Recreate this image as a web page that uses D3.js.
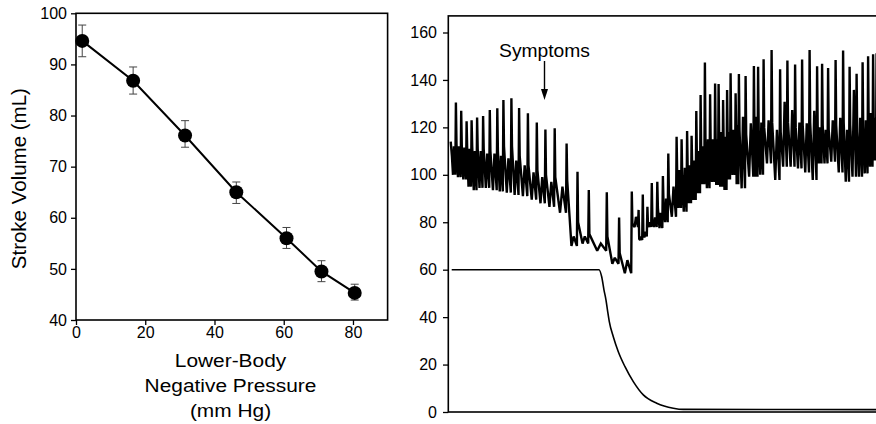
<!DOCTYPE html>
<html>
<head>
<meta charset="utf-8">
<script src="https://cdn.jsdelivr.net/npm/d3@7"></script>
<style>
  html, body { margin: 0; padding: 0; background: #fff; }
  svg { display: block; font-family: "Liberation Sans", Arial, Helvetica, sans-serif; }
</style>
</head>
<body>
<div id="chart"></div>
<script>
// ---------- left panel: stroke volume vs lower-body negative pressure ----------
const lbnpLevels   = [1.8, 16.5, 31.5, 46.3, 60.8, 70.9, 80.5];
const strokeVolume = [94.6, 86.8, 76.1, 65.0, 56.0, 49.5, 45.3];
const svErrLow     = [91.5, 84.2, 73.8, 62.8, 54.0, 47.5, 43.9];
const svErrHigh    = [97.7, 89.5, 79.0, 67.0, 58.1, 51.6, 47.0];
const leftXTicks = [0, 20, 40, 60, 80];
const leftYTicks = [40, 50, 60, 70, 80, 90, 100];

// ---------- right panel: blood pressure trace (one entry per beat) ----------
const beatTime  = [2.4, 7.0, 12.3, 17.7, 22.7, 28.2, 34.2, 40.9, 48.4, 54.5,
                   62.5, 70.2, 79.0, 87.9, 96.5, 105.8, 117.7, 128.6, 139.9, 157.9,
                   170.2, 182.9, 189.7, 193.9, 198.5, 202.9, 208.4, 214.0, 219.4, 227.7,
                   232.7, 238.2, 242.7, 247.4, 251.7, 256.0, 261.2, 266.2, 269.7, 274.2,
                   278.2, 281.7, 286.7, 290.0, 296.7, 305.0, 309.2, 314.7, 322.7, 331.2,
                   338.5, 346.2, 353.2, 360.7, 368.2, 373.2, 379.2, 386.7, 394.2, 400.7,
                   407.7, 413.7, 419.2, 424.2, 427.7];
const beatPeak  = [114, 130.5, 127, 122.6, 123, 124.2, 124.8, 127.3, 128.1, 131.5,
                   132.3, 128.2, 125.9, 122, 119.1, 119.6, 113.2, 101.3, 93.6, 92.6,
                   82, 93, 85.2, 91.7, 86.5, 96.5, 97.1, 99.5, 109, 116,
                   115, 118.5, 116.5, 126.9, 133.6, 147.3, 134, 138.5, 138.3, 131.5,
                   135.8, 142.8, 134.4, 142.5, 141.7, 145.9, 145.6, 148.7, 152.6, 144.5,
                   148.2, 146.5, 148.6, 152.6, 145.8, 146.8, 145, 148.4, 152.4, 145.6,
                   142.6, 147.5, 150, 150.8, 151.2];
const beatNotch = [108, 113, 112, 111, 112, 111, 111, 110, 110, 112,
                   112, 108, 104, 102, 100, 99, 97.8, 80, 75, 74,
                   67, 79.5, 73, 74, 79, 80, 86, 88, 92, 100,
                   100, 102, 103, 107, 110, 112, 112, 113, 115, 112,
                   115, 118, 117, 119, 117, 118, 119, 120, 122, 118,
                   122, 120, 121, 122, 120, 121, 119, 121, 122, 121,
                   118, 120, 121, 122, 122];
const beatSub   = [112, 112, 111.5, 111, 110, 110, 109, 109, 108, 107,
                   106, 104, 101, 99, 97, 95, 74, 74, 71, 65,
                   64, 82.3, 74, 76, 80, 82, 84, 90, 95, 102,
                   103, 104, 106, 110, 112, 115, 115, 115, 118, 116,
                   118, 119, 121, 124.5, 121.7, 124.5, 122, 123, 119, 130.8,
                   127.3, 122, 121.7, 127, 120, 119, 123, 124, 119, 135.8,
                   124, 123, 126, 124, 122];
const beatFloor = [100, 99, 98, 95, 93.5, 94.5, 94.5, 93.5, 93, 92.5,
                   91.5, 91, 89.5, 88, 86.5, 84, 70, 71, 68, 62.5,
                   58.5, 78, 72.5, 74, 78, 78, 77.5, 80, 82.3, 86,
                   84.4, 88, 89.4, 92.2, 96, 94.3, 97, 95.7, 95, 93.6,
                   98, 99.9, 96, 94.3, 99.2, 99.2, 100, 104.8, 97.8, 103.4,
                   103.4, 102.7, 101, 97.8, 104.8, 104.8, 105.5, 101, 97.1, 99.2,
                   99.2, 100.6, 103.4, 106, 105];

// ---------- right panel: LBNP level ----------
const lbnpTime  = [3.4, 150.7, 153.4, 155.7, 157.7, 159.4, 161, 165, 170, 176.7,
                   185, 195, 208.4, 225, 235, 435];
const lbnpTrace = [60, 60, 57, 51.4, 47.2, 42.3, 38.1, 31.7, 25.4, 19.1,
                   12.8, 7.2, 3.7, 1.6, 1.1, 1.0];
const rightYTicks = [0, 20, 40, 60, 80, 100, 120, 140, 160];
const SYMPTOM_TIME = 96.2;

// ---------- layout ----------
const WIDTH = 876;
const HEIGHT = 424;
const TICK_FONT = 16;

const svg = d3.select("#chart")
    .append("svg")
    .attr("width", WIDTH)
    .attr("height", HEIGHT)
    .attr("viewBox", `0 0 ${WIDTH} ${HEIGHT}`);

// ===== left panel =====
const xL = d3.scaleLinear().domain([0, 90]).range([76, 387.6]);
const yL = d3.scaleLinear().domain([40, 100]).range([320, 13.3]);

const left = svg.append("g");

left.append("g")
    .attr("transform", `translate(${xL(0)},0)`)
    .call(d3.axisLeft(yL).tickValues(leftYTicks).tickSize(5).tickPadding(4))
    .call(g => g.select(".domain").remove());

left.append("g")
    .attr("transform", `translate(0,${yL(40)})`)
    .call(d3.axisBottom(xL).tickValues(leftXTicks).tickSize(5).tickPadding(2))
    .call(g => g.select(".domain").remove());

left.append("rect")
    .attr("x", xL(0))
    .attr("y", yL(100))
    .attr("width", xL(90) - xL(0))
    .attr("height", yL(40) - yL(100))
    .attr("fill", "none")
    .attr("stroke", "#000")
    .attr("stroke-width", 1.6);

const svData = lbnpLevels.map((x, i) => ({
    x: x, y: strokeVolume[i], lo: svErrLow[i], hi: svErrHigh[i]
}));

// error bars
const err = left.selectAll(".err").data(svData).join("g").attr("class", "err")
    .attr("stroke", "#444").attr("stroke-width", 1);
err.append("line")
    .attr("x1", d => xL(d.x)).attr("x2", d => xL(d.x))
    .attr("y1", d => yL(d.lo)).attr("y2", d => yL(d.hi));
err.append("line")
    .attr("x1", d => xL(d.x) - 4).attr("x2", d => xL(d.x) + 4)
    .attr("y1", d => yL(d.lo)).attr("y2", d => yL(d.lo));
err.append("line")
    .attr("x1", d => xL(d.x) - 4).attr("x2", d => xL(d.x) + 4)
    .attr("y1", d => yL(d.hi)).attr("y2", d => yL(d.hi));

// connecting line
left.append("path")
    .datum(svData)
    .attr("fill", "none")
    .attr("stroke", "#000")
    .attr("stroke-width", 2)
    .attr("d", d3.line().x(d => xL(d.x)).y(d => yL(d.y)));

// points
left.selectAll(".pt").data(svData).join("circle")
    .attr("class", "pt")
    .attr("cx", d => xL(d.x))
    .attr("cy", d => yL(d.y))
    .attr("r", 7)
    .attr("fill", "#000");

// y title
left.append("text")
    .attr("transform", `translate(26,${(yL(40) + yL(100)) / 2 + 12}) rotate(-90)`)
    .attr("text-anchor", "middle")
    .attr("font-size", 20.5)
    .text("Stroke Volume (mL)");

// x title (three lines)
const xTitle = ["Lower-Body", "Negative Pressure", "(mm Hg)"];
left.selectAll(".xt").data(xTitle).join("text")
    .attr("class", "xt")
    .attr("transform", (d, i) => `translate(230.5,${366.5 + i * 25}) scale(1.13,1)`)
    .attr("text-anchor", "middle")
    .attr("font-size", 18.5)
    .text(d => d);

// ===== right panel =====
const R_TOP = 167;
const xR = d3.scaleLinear().domain([0, 430]).range([448.3, 878.3]);
const yR = d3.scaleLinear().domain([0, 160]).range([412, 32.5]);

const right = svg.append("g");

right.append("defs").append("clipPath").attr("id", "rclip")
    .append("rect")
    .attr("x", xR(0)).attr("y", yR(R_TOP))
    .attr("width", WIDTH - xR(0)).attr("height", yR(0) - yR(R_TOP));

right.append("g")
    .attr("transform", `translate(${xR(0)},0)`)
    .call(d3.axisLeft(yR).tickValues(rightYTicks).tickSize(5.3).tickPadding(6))
    .call(g => g.select(".domain").remove());

right.append("rect")
    .attr("x", xR(0))
    .attr("y", yR(R_TOP))
    .attr("width", xR(436) - xR(0))
    .attr("height", yR(0) - yR(R_TOP))
    .attr("fill", "none")
    .attr("stroke", "#000")
    .attr("stroke-width", 1.6);

// build pressure waveform from per-beat readings
const bpPoints = [];
beatTime.forEach((t, i) => {
    const next = i < beatTime.length - 1 ? beatTime[i + 1] : t + 5;
    const len = next - t;
    if (i === 0) bpPoints.push([t, beatPeak[i]]);
    else bpPoints.push([t + 0.6, beatPeak[i]]);
    bpPoints.push([t + 1.2, beatNotch[i]]);
    bpPoints.push([t + Math.max(0.5 * len, 1.6), beatFloor[i]]);
    bpPoints.push([t + Math.max(0.7 * len, 2.1), beatSub[i]]);
    bpPoints.push([next, beatFloor[i]]);
});

const plot = right.append("g").attr("clip-path", "url(#rclip)");

plot.append("path")
    .datum(bpPoints)
    .attr("fill", "none")
    .attr("stroke", "#000")
    .attr("stroke-width", 2.4)
    .attr("stroke-miterlimit", 2)
    .attr("d", d3.line().x(d => xR(d[0])).y(d => yR(d[1])));

plot.append("path")
    .datum(lbnpTime.map((t, i) => [t, lbnpTrace[i]]))
    .attr("fill", "none")
    .attr("stroke", "#000")
    .attr("stroke-width", 1.6)
    .attr("d", d3.line().x(d => xR(d[0])).y(d => yR(d[1])).curve(d3.curveMonotoneX));

// symptoms annotation
const sx = xR(SYMPTOM_TIME);
right.append("text")
    .attr("transform", `translate(${sx},57.3) scale(1.07,1)`)
    .attr("text-anchor", "middle")
    .attr("font-size", 18)
    .text("Symptoms");
right.append("line")
    .attr("x1", sx).attr("x2", sx)
    .attr("y1", 61).attr("y2", 92)
    .attr("stroke", "#000").attr("stroke-width", 1.4);
right.append("path")
    .attr("d", `M${sx - 3.5},89 L${sx + 3.5},89 L${sx},100 Z`)
    .attr("fill", "#000");

// shared tick styling
svg.selectAll(".tick text")
    .attr("font-size", TICK_FONT)
    .attr("fill", "#000")
    .attr("font-family", "'Liberation Sans', Arial, sans-serif");
svg.selectAll(".tick line")
    .attr("stroke", "#000")
    .attr("stroke-width", 1.3);
</script>
</body>
</html>
